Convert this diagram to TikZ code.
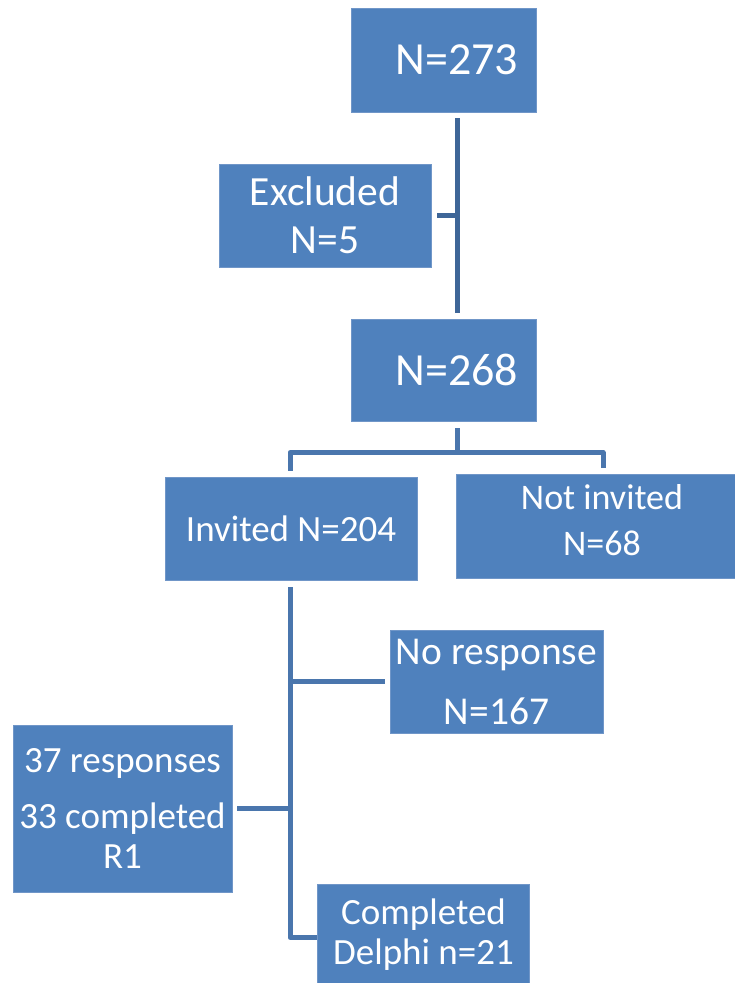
\documentclass[tikz,border=0pt]{standalone}
\usepackage{fontspec}
\setmainfont{Carlito}
\usetikzlibrary{calc}
\definecolor{boxfill}{HTML}{4F81BD}
\definecolor{boxline}{HTML}{7096C8}
\definecolor{linkA}{HTML}{3E6698}
\definecolor{linkB}{HTML}{4A76AD}
\begin{document}
\begin{tikzpicture}[x=1pt,y=-1pt,
  box/.style={draw=boxline, line width=0.8pt, fill=boxfill, text=white,
    align=center, inner sep=0pt},
  conn/.style={draw=linkB, line width=5pt, line join=round},
]
\useasboundingbox (0,0) rectangle (735,983);
\clip (0,0) rectangle (735,983);

\node[box, minimum width=185pt, minimum height=104pt,
  font=\fontsize{46}{55}\selectfont] (n273) at (443.5,60) {\hspace*{27pt}N=273};
\node[box, minimum width=212pt, minimum height=103pt,
  font=\fontsize{41.5}{48}\selectfont] (excl) at (325,215.5) {Excluded\\N=5};
\node[box, minimum width=185pt, minimum height=102pt,
  font=\fontsize{46}{55}\selectfont] (n268) at (443.5,370) {\hspace*{27pt}N=268};
\node[box, minimum width=252pt, minimum height=103pt,
  font=\fontsize{37}{44}\selectfont] (inv) at (291,528.5) {Invited N=204};
\node[box, minimum width=292pt, minimum height=104pt,
  font=\fontsize{36}{46}\selectfont, text depth=12pt] (notinv) at (602,526) {Not invited\\N=68};
\node[box, minimum width=213pt, minimum height=103pt,
  font=\fontsize{39.5}{60}\selectfont] (nores) at (496.5,681.5) {No response\\N=167};
\node[box, minimum width=219pt, minimum height=167pt,
  font=\fontsize{37}{40}\selectfont] (resp) at (122.5,808.5) {37 responses\\[16pt]33 completed\\R1};
\node[box, minimum width=212pt, minimum height=102pt,
  font=\fontsize{37}{40}\selectfont] (delphi) at (423.5,935) {Completed\\Delphi n=21};

% connectors
\coordinate (a1) at ($(n273.south)+(13.5,6)$);
\coordinate (a2) at ($(n268.north)+(13.5,-6)$);
\draw[conn, draw=linkA] (a1) -- (a2);
\draw[conn, draw=linkA] ($(excl.east)+(6,0)$) -- (a1 |- excl.east);

\coordinate (b0) at ($(n268.south)+(13.5,7)$);
\coordinate (b1) at ($(n268.south)+(13.5,31)$);
\draw[conn] (b0) -- (b1);
\draw[conn] ($(inv.north)+(-1,-6)$) |- (b1) -| ($(notinv.north)+(1,-6)$);

\coordinate (c0) at ($(inv.south)+(-1,7)$);
\coordinate (c1) at ($(inv.south)+(-1,357)$);
\draw[conn] (c0) -- (c1) -- (c1 -| delphi.west) ++(-7,0);
\draw[conn] (c0 |- nores.west) -- ($(nores.west)+(-5,0)$);
\draw[conn] ($(resp.east)+(5,0)$) -- (c0 |- resp.east);
\end{tikzpicture}
\end{document}
